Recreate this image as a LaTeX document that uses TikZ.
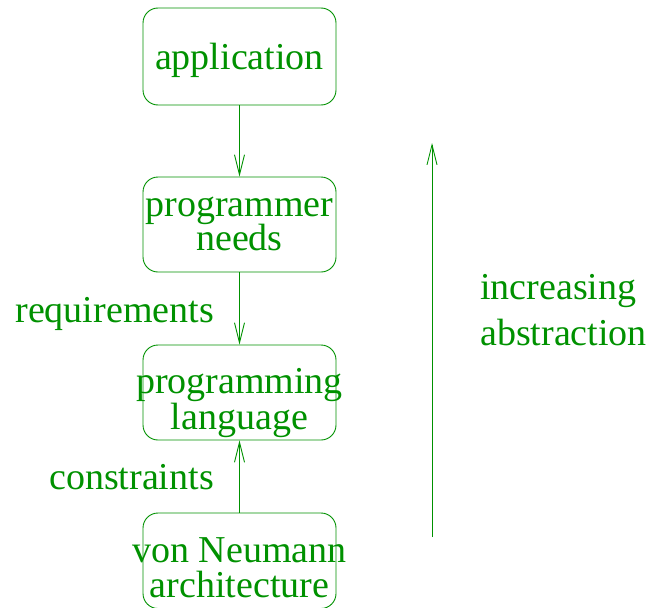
\documentclass[tikz,border=0pt]{standalone}
\usepackage{fontspec}
\setmainfont{Liberation Serif}
\usetikzlibrary{arrows.meta}
\definecolor{fig}{RGB}{0,145,0}
\tikzset{
  box/.style={draw=fig, line width=0.9pt, rounded corners=15pt, minimum width=193pt, inner sep=0pt},
  txt/.style={text=fig, inner sep=0pt, font=\fontsize{38}{34}\selectfont},
  arr/.style={draw=fig, line width=0.9pt, -{Straight Barb[length=20pt,width=10pt,line width=0.9pt]}}
}
\begin{document}
\begin{tikzpicture}[x=1pt,y=-1pt]
\useasboundingbox (0,0) rectangle (652,607);
% boxes
\node[box, minimum height=97pt] (app) at (239.5,56.5) {};
\node[box, minimum height=95pt] (needs) at (239.5,224.5) {};
\node[box, minimum height=95pt] (lang) at (239.5,392.5) {};
\node[box, minimum height=95.5pt] (vn) at (239.5,560.75) {};
% box texts
\node[txt, anchor=base] (t1) at (239.5,70) {application};
\node[txt, anchor=base] (t2a) at (239.5,216.5) {programmer};
\node[txt, anchor=base] (t2b) at (239.5,250) {needs};
\node[txt, anchor=base] (t3a) at (239.5,393.5) {programming};
\node[txt, anchor=base] (t3b) at (239.5,429) {language};
\node[txt, anchor=base] (t4a) at (239.5,562.5) {von Neumann};
\node[txt, anchor=base] (t4b) at (239.5,597) {architecture};
% side labels
\node[txt, anchor=base east] (req) at (214,322) {requirements};
\node[txt, anchor=base east] (con) at (214,489) {constraints};
\node[txt, anchor=base west] (inc) at (480,299) {increasing};
\node[txt, anchor=base west] (abs) at (480,345) {abstraction};
% connectors
\draw[arr] (app.south) -- (needs.north);
\draw[arr] (needs.south) -- (lang.north);
\draw[arr] (vn.north) -- (lang.south);
\coordinate (lo) at (432,537);
\coordinate (hi) at (432,143);
\draw[arr] (lo) -- (hi);
\end{tikzpicture}
\end{document}
